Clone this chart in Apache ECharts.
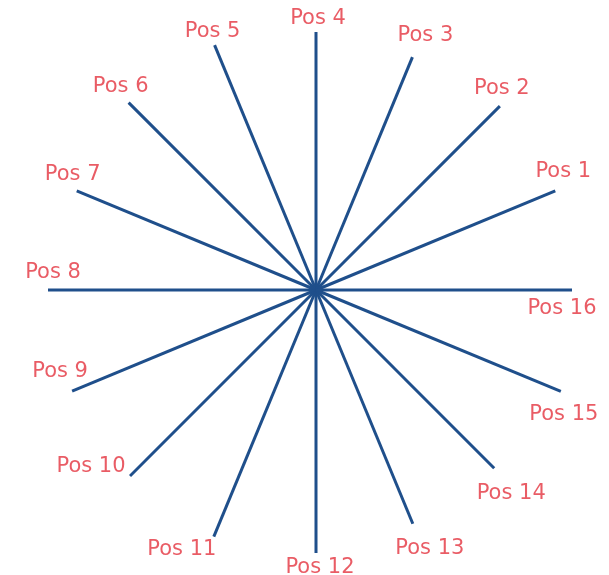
<!DOCTYPE html>
<html><head><meta charset="utf-8">
<script src="https://cdn.jsdelivr.net/npm/echarts@6/dist/echarts.min.js"></script>
<style>html,body{margin:0;padding:0;background:#fff}#c{width:609px;height:575px}</style>
</head><body><div id="c"></div>
<script>
// Data
var categories = ['Pos 1','Pos 2','Pos 3','Pos 4','Pos 5','Pos 6','Pos 7','Pos 8','Pos 9','Pos 10','Pos 11','Pos 12','Pos 13','Pos 14','Pos 15','Pos 16'];
var angles = [22.5,45,67.5,90,112.5,135,157.5,180,202.5,225,247.5,270,292.5,315,337.5,0];
var lengths = [259,260,252,258,265,265,259,268,264,263,267,263,253,252,265,256];

// Styling (label offsets in px)
var labelOffsets = [[8,-19],[2,-18],[13,-22],[2,-13],[-2,-14],[-8,-16],[-4,-16],[5,-17],[-12,-19],[-39,-9],[-32,13],[4,15],[17,25],[17,25],[3,23],[-10,19]];

var series = categories.map(function(name, i){
  return {
    type: 'line',
    coordinateSystem: 'polar',
    name: name,
    symbol: 'none',
    silent: true,
    lineStyle: {color: '#1f4f8b', width: 3, cap: 'butt'},
    data: [[0, angles[i]], [lengths[i], angles[i]]],
    animation: false
  };
});

series.push({
  type: 'scatter',
  coordinateSystem: 'polar',
  symbol: 'circle',
  symbolSize: 1,
  silent: true,
  itemStyle: {color: 'rgba(0,0,0,0)'},
  label: {show: true, position: 'inside', color: '#e4333e', fontSize: 21, fontFamily: 'DejaVu Sans',
          formatter: function(p){ return categories[p.dataIndex]; }},
  data: categories.map(function(name, i){
    return {value: [lengths[i], angles[i]], label: {offset: labelOffsets[i]}};
  }),
  z: 5
});

var chart = echarts.init(document.getElementById('c'));
chart.setOption({
  animation: false,
  polar: {center: [316, 290], radius: 280},
  angleAxis: {type: 'value', min: 0, max: 360, startAngle: 0, clockwise: false, show: false},
  radiusAxis: {type: 'value', min: 0, max: 280, show: false},
  series: series
});
</script></body></html>
